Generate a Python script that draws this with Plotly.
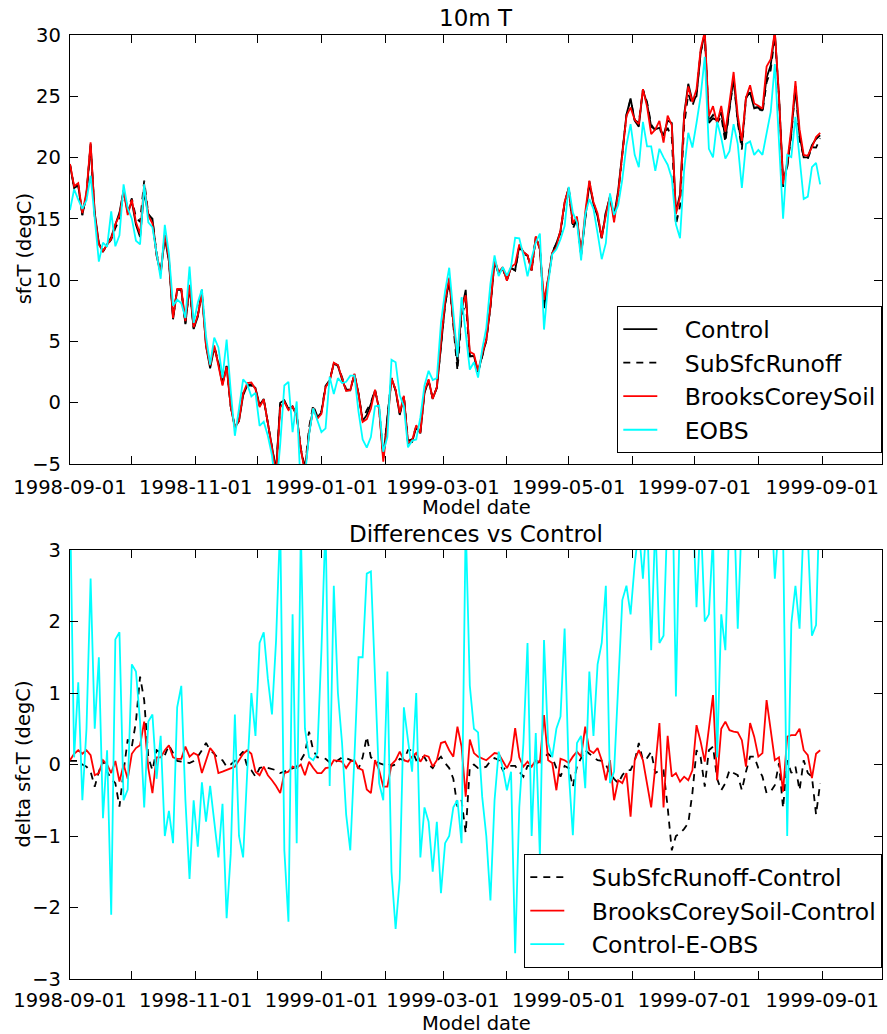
import pandas as pd
import plotly.graph_objects as go

# ---------------- data (one value every 2 days from 1998-09-01) ----------------
start_date = "1998-09-01"
step_days = 2

control = [
    19.4, 17.5, 17.7, 15.3, 17.0, 21.1, 15.5, 13.0, 12.3, 12.9,
    13.5, 14.5, 15.5, 17.3, 15.5, 16.4, 14.5, 13.5, 17.2, 15.3,
    15.0, 12.0, 10.5, 13.5, 11.5, 6.8, 9.2, 9.2, 6.4, 9.5,
    6.0, 7.0, 9.0, 4.6, 2.8, 4.5, 3.2, 1.5, 3.0, -0.3,
    -2.0, -1.5, 0.6, 1.4, 1.5, 1.2, -0.2, 0.3, -1.5, -3.6,
    -5.5, 0.0, 0.2, -0.5, -0.3, -1.0, -3.8, -5.5, -2.5, -0.4,
    -1.2, -0.8, 1.3, 1.8, 3.2, 3.0, 1.9, 1.0, 1.0, 2.3,
    0.75, -1.5, -1.0, -0.1, 1.0, -0.5, -4.5, -1.5, 2.0, 1.0,
    -1.0, 0.5, -3.3, -3.2, -2.0, -2.5, 0.8, 1.8, 0.35, 1.2,
    4.7, 8.0, 10.0, 6.5, 3.2, 7.5, 9.2, 3.8, 3.8, 2.5,
    3.9, 5.1, 7.8, 11.5, 10.5, 11.0, 10.0, 11.0, 10.8, 12.8,
    12.3, 12.0, 10.8, 13.5, 12.5, 7.7, 10.0, 12.2, 13.0, 14.0,
    16.3, 17.5, 14.5, 15.0, 12.0, 15.0, 17.9, 16.2, 15.2, 13.4,
    15.5, 16.8, 15.2, 17.3, 20.5, 23.5, 24.8, 23.0, 22.5, 25.5,
    24.4, 22.5, 22.3, 22.4, 21.8, 23.0, 22.8, 15.5, 17.0, 23.5,
    26.0, 24.6, 25.0, 28.5, 30.2, 22.8, 23.2, 23.0, 23.7, 21.5,
    24.0, 26.5, 23.0, 21.0, 24.9, 25.3, 24.0, 24.1, 23.8, 26.5,
    27.5, 30.2, 25.0, 18.2, 19.2, 22.0, 25.8, 21.8, 20.0, 20.0,
    21.0, 21.5, 21.8,
]

# SubSfcRunoff - Control
d_sub = [
    0.05, 0.05, 0.05, 0.0, -0.03, -0.1, -0.31, -0.1, 0.06, -0.1,
    -0.2, -0.26, -0.59, -0.1, 0.35, 0.25, 0.6, 1.23, 0.9, 0.1,
    -0.08, 0.2, 0.16, 0.13, 0.27, 0.15, 0.05, 0.04, 0.03, 0.02,
    0.05, 0.11, 0.2, 0.3, 0.2, 0.15, 0.08, 0.06, -0.03, 0.0,
    0.05, 0.12, 0.18, -0.03, -0.08, -0.17, -0.05, -0.03, -0.05, -0.06,
    -0.08, -0.12, -0.1, -0.08, -0.05, -0.03, 0.06, 0.16, 0.46, 0.2,
    0.1, 0.1, 0.08, 0.03, 0.02, 0.06, 0.1, 0.09, 0.06, 0.04,
    -0.06, 0.1, 0.39, 0.1, 0.06, 0.02, 0.0, 0.02, -0.02, 0.0,
    0.08, 0.06, 0.2, 0.2, 0.06, 0.11, 0.1, 0.0, -0.05, 0.05,
    0.11, 0.02, -0.05, -0.2, -0.59, -0.5, -0.96, -0.03, 0.0, -0.05,
    -0.05, -0.03, 0.05, 0.09, 0.06, -0.08, -0.02, -0.02, -0.02, -0.1,
    -0.17, -0.02, -0.02, 0.0, 0.05, 0.09, 0.15, 0.1, -0.05, -0.17,
    -0.02, -0.05, -0.31, -0.02, 0.1, 0.2, 0.15, 0.1, 0.06, 0.05,
    0.0, -0.12, -0.2, -0.26, -0.15, -0.08, -0.08, 0.05, 0.3, 0.06,
    0.09, 0.18, -0.12, -0.08, -0.08, -0.6, -1.2, -1.0, -0.96, -0.9,
    -0.82, -0.4, 0.2, 0.1, -0.31, 0.2, 0.25, -0.2, -0.36, -0.26,
    -0.08, -0.12, -0.15, -0.36, -0.1, 0.11, 0.11, -0.05, -0.17, -0.4,
    -0.38, -0.29, 0.02, -0.61, 0.06, -0.12, -0.03, -0.36, 0.06, -0.12,
    -0.17, -0.7, -0.26,
]

# BrooksCoreySoil - Control
d_brooks = [
    0.06, 0.15, 0.2, 0.15, 0.2, 0.13, -0.15, -0.12, 0.06, 0.0,
    -0.12, 0.05, -0.24, 0.0, -0.2, 0.15, 0.23, 0.27, 0.6, -0.05,
    -0.4, 0.1, 0.1, 0.2, 0.27, 0.1, 0.08, 0.08, 0.25, 0.11,
    0.16, 0.13, -0.12, 0.06, 0.23, 0.16, -0.12, -0.1, -0.08, -0.05,
    -0.03, 0.06, 0.15, 0.2, 0.15, -0.1, -0.15, -0.03, -0.15, -0.22,
    -0.3, -0.4, -0.12, -0.1, -0.03, -0.05, 0.0, -0.15, 0.04, -0.05,
    -0.12, -0.12, -0.05, -0.04, 0.06, 0.05, 0.04, -0.05, 0.04, 0.06,
    -0.05, -0.08, -0.35, -0.4, 0.06, -0.08, -0.31, -0.31, 0.0, 0.06,
    0.18, 0.06, 0.04, 0.11, 0.16, 0.04, 0.13, 0.11, -0.03, 0.06,
    0.3, 0.32, 0.2, 0.11, 0.53, 0.25, -0.45, 0.35, 0.16, 0.11,
    0.08, 0.06, 0.11, 0.16, 0.15, 0.05, -0.05, 0.06, 0.51, 0.1,
    -0.03, 0.04, -0.03, 0.06, 0.03, 0.69, 0.06, 0.02, -0.36, 0.08,
    0.06, 0.02, 0.11, 0.18, 0.11, 0.53, 0.2, 0.16, 0.23, 0.06,
    -0.22, 0.06, -0.5, -0.22, -0.26, -0.12, -0.73, 0.06, 0.2, 0.06,
    -0.26, -0.6, -0.03, 0.58, -0.6, 0.4, -0.17, -0.12, -0.24, -0.17,
    -0.22, -0.08, 0.55, 0.32, 0.04, 0.55, 0.97, -0.22, 0.5, 0.6,
    0.48, 0.46, 0.45, 0.34, -0.03, 0.58, 0.39, 0.11, 0.16, 0.9,
    0.5, 0.06, 0.1, -0.38, 0.39, 0.41, 0.41, 0.5, 0.2, 0.13,
    -0.19, 0.15, 0.2,
]

# Control - E-OBS
d_obs = [
    3.7, 0.1, 1.15, -0.5, 0.5, 2.6, 0.5, 1.5, -0.75, 0.2,
    -2.1, 1.75, 1.85, -0.5, -0.35, 1.4, 1.3, 0.6, -0.6, 0.6,
    0.7, -0.2, 0.4, -1.0, -0.65, -1.1, 0.8, 1.1, -0.5, -1.6,
    -0.5, -1.15, -0.25, -0.8, -0.3, -0.8, -1.3, -0.55, -2.15, -1.25,
    0.7, -1.0, -1.3, -0.1, 1.0, 0.4, 1.7, 1.85, 1.2, 0.7,
    1.74, 3.4, -1.2, -2.2, 2.1, -1.1, 3.3, 0.5, 0.1, 0.06,
    0.16, 1.6, 3.4, -0.3, 2.5, 1.0, 0.3, -0.7, -1.2, 0.1,
    1.5, 1.5, 2.67, 2.7, 1.3, -0.26, -0.5, 1.3, -1.5, -2.3,
    -1.6, 0.8, 0.34, -0.1, 1.0, -1.3, -0.6, -0.8, -1.5, -0.8,
    -1.8, -1.1, -1.0, -0.6, -0.5, -1.1, 3.4, 1.1, 0.5, 0.45,
    -0.45, -1.0, -1.9, -0.5, 0.18, -0.05, -0.36, -0.1, -2.64, -0.6,
    0.3, 1.7, -1.0, 0.44, -1.29, 1.74, 0.3, 0.1, 0.5, 0.67,
    1.9, -0.1, -0.99, 0.3, 0.4, -0.33, 1.3, 0.4, 1.4, 1.7,
    2.5, -0.26, -0.1, 1.2, 2.3, 2.5, 2.1, 2.8, 3.3, 2.6,
    3.5, 1.6, 3.4, 1.7, 1.8, 3.6, 4.5, 0.95, 3.6, 4.5,
    4.0, 3.8, 2.2, 3.5, 2.0, 2.1, 3.2, 0.1, 2.1, 1.6,
    3.5, 3.8, 1.9, 3.5, 3.8, 4.0, 3.8, 3.5, 3.6, 4.5,
    3.8, 2.6, 3.4, 3.2, -1.0, 1.97, 2.5, 1.9, 3.4, 3.2,
    1.8, 1.95, 4.0,
]

tick_months = pd.date_range("1998-09-01", "1999-09-01", freq="MS")
tick_labels = [d.strftime("%Y-%m-%d") if i % 2 == 0 else "" for i, d in enumerate(tick_months)]

# ---------------- derived series ----------------
dates = pd.date_range(start_date, periods=len(control), freq=f"{step_days}D")
subsfc = [c + d for c, d in zip(control, d_sub)]
brooks = [c + d for c, d in zip(control, d_brooks)]
eobs = [c - d for c, d in zip(control, d_obs)]

W, H = 887, 1034
FONT = "DejaVu Sans"
X0, X1 = 70, 882
TOP_Y0, TOP_Y1 = 34.7, 464
BOT_Y0, BOT_Y1 = 550, 979
PAD = "\u00a0\u00a0\u00a0"


def py(v):
    return 1 - v / H


fig = go.Figure()


def add(y, name, color, dash, xa, ya, legend):
    fig.add_trace(go.Scatter(
        x=dates, y=y, mode="lines", name=PAD + name,
        line=dict(color=color, width=1.8, dash=dash),
        xaxis=xa, yaxis=ya, legend=legend, legendgroup=name + legend,
    ))


DASH = "7px,6px"
add(control, "Control", "black", "solid", "x", "y", "legend")
add(subsfc, "SubSfcRunoff", "black", DASH, "x", "y", "legend")
add(brooks, "BrooksCoreySoil", "#ff0000", "solid", "x", "y", "legend")
add(eobs, "EOBS", "#00ffff", "solid", "x", "y", "legend")

add(d_sub, "SubSfcRunoff-Control", "black", DASH, "x2", "y2", "legend2")
add(d_brooks, "BrooksCoreySoil-Control", "#ff0000", "solid", "x2", "y2", "legend2")
add(d_obs, "Control-E-OBS", "#00ffff", "solid", "x2", "y2", "legend2")

axis_common = dict(
    showline=True, linecolor="black", linewidth=1.3, mirror="allticks",
    ticks="inside", ticklen=8, tickwidth=1, tickcolor="black",
    showgrid=False, zeroline=False, automargin=False, tickangle=0,
    tickfont=dict(family=FONT, size=19.5, color="black"),
)
xcommon = dict(
    axis_common, type="date", range=["1998-09-01", "1999-09-30"],
    tickmode="array", tickvals=list(tick_months), ticktext=tick_labels,
    domain=[X0 / W, X1 / W],
)
ycommon = dict(axis_common, ticklabelstandoff=4)

legend_common = dict(
    x=X1 / W, xanchor="right", yanchor="bottom",
    bgcolor="white", bordercolor="black", borderwidth=1.3,
    font=dict(family=FONT, size=23.5, color="black"),
    tracegroupgap=0, itemwidth=34,
)

fig.update_layout(
    width=W, height=H, margin=dict(l=0, r=0, t=0, b=0, autoexpand=False),
    paper_bgcolor="white", plot_bgcolor="white",
    font=dict(family=FONT, color="black"),
    xaxis=dict(xcommon, anchor="y", ticklabelstandoff=5),
    yaxis=dict(ycommon, anchor="x", range=[-5, 30], tickvals=list(range(-5, 31, 5)),
               domain=[py(TOP_Y1), py(TOP_Y0)]),
    xaxis2=dict(xcommon, anchor="y2", ticklabelstandoff=3),
    yaxis2=dict(ycommon, anchor="x2", range=[-3, 3], tickvals=list(range(-3, 4)),
                domain=[py(BOT_Y1), py(BOT_Y0)]),
    legend=dict(legend_common, y=py(453)),
    legend2=dict(legend_common, y=py(968)),
    showlegend=True,
)

cx = (X0 + X1) / 2 / W
ann = [
    dict(text="10m T", x=cx, y=py(18), size=23, angle=0),
    dict(text="Differences vs Control", x=cx, y=py(534), size=23, angle=0),
    dict(text="Model date", x=cx, y=py(507), size=19.5, angle=0),
    dict(text="Model date", x=cx, y=py(1023), size=19.5, angle=0),
    dict(text="sfcT (degC)", x=24 / W, y=py((TOP_Y0 + TOP_Y1) / 2), size=19.5, angle=-90),
    dict(text="delta sfcT (degC)", x=23 / W, y=py((BOT_Y0 + BOT_Y1) / 2), size=19.5, angle=-90),
]
for a in ann:
    fig.add_annotation(
        text=a["text"], x=a["x"], y=a["y"], xref="paper", yref="paper",
        xanchor="center", yanchor="middle", showarrow=False, textangle=a["angle"],
        font=dict(family=FONT, size=a["size"], color="black"),
    )

fig.write_html("out.html")
